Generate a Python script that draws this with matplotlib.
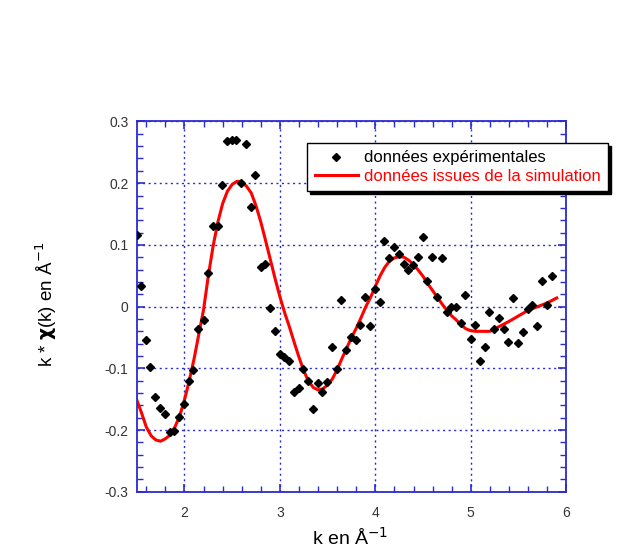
import numpy as np
import matplotlib
matplotlib.use("Agg")
import matplotlib.pyplot as plt
from matplotlib.ticker import MultipleLocator

plt.rcParams['font.family'] = ['Liberation Sans', 'DejaVu Sans']

k_exp = [1.50, 1.545, 1.598, 1.643, 1.696, 1.745, 1.797, 1.846, 1.895, 1.944,
         1.997, 2.045, 2.094, 2.147, 2.20, 2.245, 2.30, 2.35, 2.395, 2.448,
         2.497, 2.54, 2.595, 2.647, 2.696, 2.742, 2.80, 2.843, 2.90, 2.944,
         2.997, 3.04, 3.094, 3.144, 3.196, 3.245, 3.294, 3.346, 3.396, 3.445,
         3.497, 3.546, 3.595, 3.644, 3.697, 3.745, 3.794, 3.844, 3.896, 3.945,
         3.998, 4.046, 4.095, 4.144, 4.193, 4.246, 4.295, 4.343, 4.396, 4.445,
         4.494, 4.543, 4.595, 4.644, 4.694, 4.746, 4.795, 4.844, 4.893, 4.941,
         4.998, 5.046, 5.095, 5.145, 5.193, 5.242, 5.295, 5.344, 5.392, 5.445,
         5.494, 5.543, 5.596, 5.645, 5.694, 5.743, 5.795, 5.848]
chi_exp = [0.116, 0.034, -0.054, -0.097, -0.147, -0.164, -0.174, -0.203, -0.201, -0.178,
           -0.157, -0.120, -0.103, -0.037, -0.022, 0.054, 0.131, 0.131, 0.197, 0.268,
           0.270, 0.270, 0.201, 0.264, 0.162, 0.214, 0.064, 0.069, -0.003, -0.039,
           -0.077, -0.081, -0.088, -0.138, -0.132, -0.101, -0.120, -0.166, -0.124, -0.139,
           -0.122, -0.066, -0.101, 0.010, -0.070, -0.049, -0.054, -0.029, 0.016, -0.032,
           0.029, 0.008, 0.106, 0.078, 0.096, 0.085, 0.069, 0.059, 0.068, 0.081,
           0.112, 0.042, 0.081, 0.015, 0.079, -0.009, 0.000, 0.000, -0.027, 0.019,
           -0.053, -0.029, -0.088, -0.066, -0.009, -0.036, -0.018, -0.037, -0.058, 0.014,
           -0.059, -0.041, -0.004, 0.002, -0.031, 0.041, 0.003, 0.049]

# ── Simulation ───────────────────────────────────────────────────────────────
k_sim = [1.49, 1.55, 1.60, 1.65, 1.70, 1.75, 1.80, 1.85, 1.90, 1.95,
         2.00, 2.05, 2.10, 2.15, 2.20, 2.25, 2.30, 2.35, 2.40, 2.45,
         2.50, 2.55, 2.60, 2.65, 2.70, 2.75, 2.80, 2.85, 2.90, 2.95,
         3.00, 3.05, 3.10, 3.15, 3.20, 3.25, 3.30, 3.35, 3.40, 3.45,
         3.50, 3.55, 3.60, 3.65, 3.70, 3.75, 3.80, 3.85, 3.90, 3.95,
         4.00, 4.05, 4.10, 4.15, 4.20, 4.25, 4.30, 4.35, 4.40, 4.45,
         4.50, 4.55, 4.60, 4.65, 4.70, 4.75, 4.80, 4.85, 4.90, 4.95,
         5.00, 5.05, 5.10, 5.15, 5.20, 5.25, 5.30, 5.40, 5.50, 5.60,
         5.70, 5.80, 5.90]
chi_sim = [-0.147, -0.172, -0.195, -0.209, -0.216, -0.218, -0.214, -0.208, -0.195, -0.177,
           -0.151, -0.120, -0.085, -0.045, -0.005, 0.050, 0.098, 0.137, 0.167, 0.187,
           0.198, 0.203, 0.202, 0.195, 0.184, 0.163, 0.137, 0.107, 0.076, 0.045,
           0.016, -0.010, -0.033, -0.058, -0.082, -0.104, -0.121, -0.131, -0.135, -0.133,
           -0.127, -0.117, -0.102, -0.084, -0.067, -0.050, -0.035, -0.018, 0.000, 0.015,
           0.033, 0.050, 0.064, 0.074, 0.079, 0.081, 0.080, 0.075, 0.068, 0.059,
           0.049, 0.037, 0.026, 0.015, 0.004, -0.006, -0.015, -0.022, -0.030, -0.036,
           -0.039, -0.040, -0.040, -0.040, -0.040, -0.036, -0.032, -0.024, -0.015, -0.006,
           0.000, 0.006, 0.014]

BLUE = '#2b2bd0'

fig = plt.figure(figsize=(6.42, 5.57), dpi=100)
ax = fig.add_axes([0.213, 0.117, 0.669, 0.665])

ax.plot(k_sim, chi_sim, color='red', linewidth=2.2, zorder=2,
        label='données issues de la simulation')
ax.plot(k_exp, chi_exp, linestyle='none', marker='D', markersize=4.3,
        color='black', zorder=3, label='données expérimentales')

ax.set_xlim(1.5, 6)
ax.set_ylim(-0.3, 0.3)
ax.xaxis.set_minor_locator(MultipleLocator(0.2))
ax.yaxis.set_minor_locator(MultipleLocator(0.02))
ax.set_xticks([2, 3, 4, 5, 6])
ax.set_xticklabels(['2', '3', '4', '5', '6'])
ax.set_yticks([-0.3, -0.2, -0.1, 0, 0.1, 0.2, 0.3])
ax.set_yticklabels(['-0.3', '-0.2', '-0.1', '0', '0.1', '0.2', '0.3'])

for s in ax.spines.values():
    s.set_color(BLUE)
    s.set_linewidth(1.3)
ax.tick_params(which='both', direction='in', top=True, right=True,
               color=BLUE, labelsize=10, labelcolor='#333333')
ax.tick_params(which='major', length=6, width=1.2, pad=6)
ax.tick_params(axis='x', which='major', pad=10)
ax.tick_params(which='minor', length=4, width=1.0)
ax.grid(True, which='major', color=BLUE, linestyle=(0, (1.5, 2.5)), linewidth=1.0)
ax.set_axisbelow(True)

ax.set_xlabel('k en Å$^{-1}$', fontsize=14, va='center')
ax.xaxis.set_label_coords(0.497, -0.125)
ax.set_ylabel('k * $\\mathbf{\\chi}$(k) en Å$^{-1}$', fontsize=13.5, va='center')
ax.yaxis.set_label_coords(-0.211, 0.505)

handles, labels = ax.get_legend_handles_labels()
leg = ax.legend(handles[::-1], labels[::-1], loc='upper left',
                bbox_to_anchor=(0.397, 0.942), fontsize=12, frameon=True,
                fancybox=False, shadow={'color': 'black', 'alpha': 1.0},
                edgecolor='black', framealpha=1.0, borderpad=0.45,
                handlelength=2.6, handletextpad=0.35, labelspacing=0.2,
                borderaxespad=0.0)
leg.get_frame().set_linewidth(1.0)
leg.get_texts()[1].set_color('red')
leg.set_zorder(5)

fig.savefig('out.png', dpi=100)
